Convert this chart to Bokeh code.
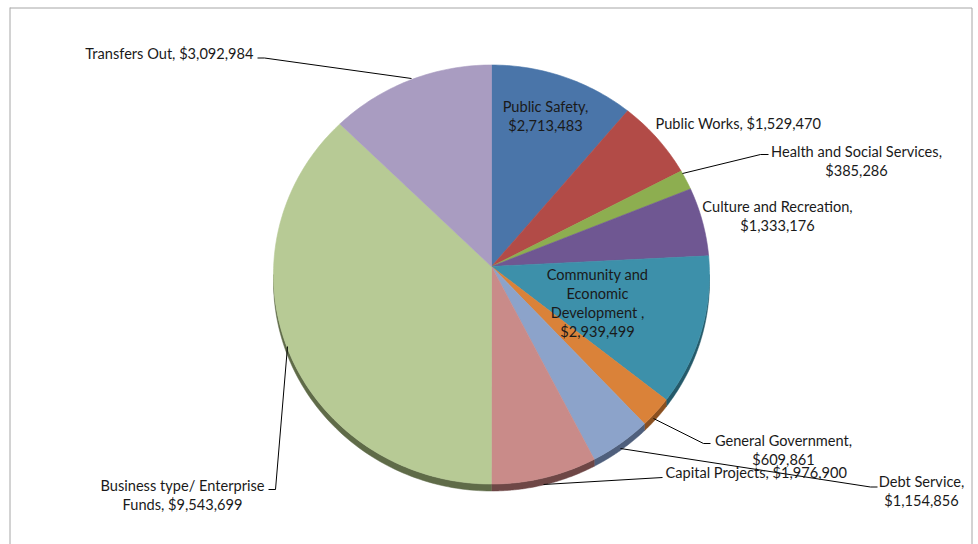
import numpy as np
from bokeh.plotting import figure
from bokeh.models import Range1d
from bokeh.embed import file_html
from bokeh.resources import INLINE
from bokeh.core.properties import value

# ---- data ----
categories = ["Public Safety", "Public Works", "Health and Social Services",
              "Culture and Recreation", "Community and Economic Development",
              "General Government", "Debt Service", "Capital Projects",
              "Business type/ Enterprise Funds", "Transfers Out"]
amounts = [2713483, 1529470, 385286, 1333176, 2939499,
           609861, 1154856, 1976900, 9543699, 3092984]
label_texts = ["Public Safety,\n$2,713,483",
               "Public Works, $1,529,470",
               "Health and Social Services,\n$385,286",
               "Culture and Recreation,\n$1,333,176",
               "Community and\nEconomic\nDevelopment ,\n$2,939,499",
               "General Government,\n$609,861",
               "Debt Service,\n$1,154,856",
               "Capital Projects, $1,976,900",
               "Business type/ Enterprise\nFunds, $9,543,699",
               "Transfers Out, $3,092,984"]

# ---- style ----
colors = ["#4A75A9", "#B24B47", "#8DAE50", "#6F5792", "#3D90AA",
          "#DA8239", "#8CA3CA", "#C98B89", "#B7CA95", "#A99CC1"]
side_colors = ["#2E4A6E", "#6E2E2C", "#56702E", "#45355C", "#255A6A",
               "#8A5020", "#4F5F7C", "#6E4746", "#5F6B48", "#665C78"]

W, H = 978, 544
p = figure(width=W, height=H, x_range=Range1d(0, W), y_range=Range1d(H, 0),
           output_backend="svg", toolbar_location=None, min_border=0,
           x_axis_location=None, y_axis_location=None)
p.grid.visible = False
p.outline_line_color = None
p.background_fill_color = "white"
p.border_fill_color = "white"

FONT = "Lato"
FS = "14.6px"
LH = 19.3

# frame (left, top, right)
p.multi_line(xs=[[9.5, 9.5], [9.5, 971.5], [971.5, 971.5]],
             ys=[[7, 548], [7.5, 7.5], [7.5, 548]], line_color="#A6A6A6", line_width=1)

# pie geometry (pixel layout)
cx, cy = 491.0, 274.0
ax, ay = 218.0, 209.5
apx, apy = 491.0, 266.0
depth = 7.0

vals = np.array(amounts, dtype=float)
frac = vals / vals.sum()
ends = np.cumsum(frac) * 2 * np.pi
starts = ends - frac * 2 * np.pi

# side (depth) patches for the lower half
sxs, sys, scol = [], [], []
for s, e, c in zip(starts, ends, side_colors):
    a0, a1 = max(s, np.pi / 2), min(e, 3 * np.pi / 2)
    if a1 <= a0:
        continue
    th = np.linspace(a0, a1, 80)
    x = cx + ax * np.sin(th)
    y = cy - ay * np.cos(th)
    sxs.append(list(x) + list(x[::-1]))
    sys.append(list(y) + list((y + depth)[::-1]))
    scol.append(c)
p.patches(xs=sxs, ys=sys, fill_color=scol, line_color=scol, line_width=0.5)

# top surface slices
xs, ys = [], []
for s, e in zip(starts, ends):
    th = np.linspace(s, e, max(6, int((e - s) * 60)))
    x = cx + ax * np.sin(th)
    y = cy - ay * np.cos(th)
    xs.append([apx] + list(x))
    ys.append([apy] + list(y))
p.patches(xs=xs, ys=ys, fill_color=colors, line_color=colors, line_width=0.6)

# leader lines
lead_x = [[257, 264, 411], [768, 760, 682], [710, 703, 653],
          [662, 543], [877, 870, 620], [268, 275, 287]]
lead_y = [[57.5, 57.5, 78], [154, 154, 173], [443, 443, 418],
          [477, 484], [486.5, 486.5, 448], [489, 489, 346]]
p.multi_line(xs=lead_x, ys=lead_y, line_color="#000000", line_width=1)

# labels: (x, y of first line centre, align)
lab_x = [545, 655, 856, 777, 597, 783, 921, 665, 182, 253]
lab_y = [106, 123, 151, 206, 273.5, 440, 481, 472, 485, 53]
lab_align = ["center", "left", "center", "center", "center", "center",
             "center", "left", "center", "right"]

for t, x0, y0, al in zip(label_texts, lab_x, lab_y, lab_align):
    lines = t.split("\n")
    p.text(x=[x0] * len(lines), y=[y0 + i * LH for i in range(len(lines))], text=lines,
           text_align=al, text_baseline="middle", text_font=value(FONT),
           text_font_size=FS, text_color="#1A1A1A")

open("out.html", "w").write(file_html(p, INLINE))
